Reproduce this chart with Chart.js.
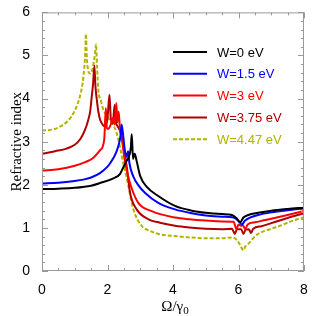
<!DOCTYPE html>
<html>
<head>
<meta charset="utf-8">
<script src="https://cdn.jsdelivr.net/npm/chart.js@4"></script>
<style>
  body { margin: 0; background: #fff; }
</style>
</head>
<body>
<canvas id="nChart" width="316" height="316"></canvas>
<script>
// refractive index vs Omega/gamma0
const labelsW = ['W=0 eV', 'W=1.5 eV', 'W=3 eV', 'W=3.75 eV', 'W=4.47 eV'];
const colorsW = ['#000000', '#0000ff', '#ff0000', '#b00000', '#b3b300'];

const omegaW0 = [0, 0.5, 1.0, 1.5, 1.77, 2.18, 2.38, 2.48, 2.58, 2.65, 2.71, 2.74, 2.78, 2.83, 2.89, 3.0, 3.2, 3.55, 4.06, 4.57, 5.0, 5.5, 5.8, 5.95, 6.05, 6.15, 6.3, 6.6, 7.0, 7.5, 8.0];
const nW0 = [1.90, 1.91, 1.93, 1.98, 2.04, 2.15, 2.25, 2.40, 2.55, 2.65, 2.85, 3.17, 2.60, 2.72, 2.55, 2.20, 1.95, 1.74, 1.51, 1.40, 1.35, 1.32, 1.30, 1.22, 1.13, 1.24, 1.30, 1.35, 1.40, 1.44, 1.47];

const omegaW15 = [0, 0.5, 1.0, 1.26, 1.5, 1.77, 2.0, 2.08, 2.18, 2.28, 2.36, 2.4, 2.43, 2.47, 2.53, 2.58, 2.63, 2.67, 2.79, 2.95, 3.15, 3.55, 4.06, 4.57, 5.0, 5.5, 5.85, 6.0, 6.1, 6.2, 6.35, 6.6, 7.0, 7.5, 8.0];
const nW15 = [2.03, 2.05, 2.09, 2.12, 2.17, 2.27, 2.42, 2.50, 2.62, 2.78, 2.98, 3.15, 3.40, 3.20, 2.80, 2.65, 2.78, 2.50, 2.19, 1.98, 1.81, 1.58, 1.43, 1.34, 1.29, 1.26, 1.24, 1.16, 1.08, 1.17, 1.24, 1.30, 1.36, 1.41, 1.45];

const omegaW3 = [0, 0.5, 1.0, 1.3, 1.57, 1.77, 1.9, 1.95, 1.98, 2.03, 2.1, 2.17, 2.22, 2.27, 2.3, 2.34, 2.38, 2.45, 2.52, 2.6, 2.72, 2.94, 3.35, 4.06, 4.5, 5.0, 5.5, 5.85, 5.94, 6.0, 6.07, 6.14, 6.2, 6.28, 6.5, 7.0, 7.5, 8.0];
const nW3 = [2.33, 2.36, 2.44, 2.52, 2.63, 2.80, 3.05, 3.78, 3.30, 3.30, 3.40, 3.55, 3.40, 3.90, 3.45, 3.70, 3.30, 3.00, 2.60, 2.30, 1.96, 1.58, 1.39, 1.24, 1.20, 1.17, 1.15, 1.14, 0.97, 1.08, 1.05, 1.06, 0.97, 1.08, 1.13, 1.21, 1.30, 1.39];

const omegaW375 = [0, 0.4, 0.75, 1.0, 1.16, 1.3, 1.41, 1.47, 1.52, 1.56, 1.6, 1.63, 1.67, 1.72, 1.77, 1.85, 1.92, 2.0, 2.06, 2.1, 2.16, 2.22, 2.26, 2.3, 2.4, 2.5, 2.6, 2.69, 2.89, 3.25, 3.6, 4.06, 4.5, 5.0, 5.5, 5.8, 5.89, 5.95, 6.08, 6.15, 6.22, 6.32, 6.38, 6.45, 6.7, 7.0, 7.5, 8.0];
const nW375 = [2.72, 2.78, 2.84, 2.93, 3.05, 3.25, 3.50, 3.70, 4.05, 4.35, 4.77, 4.30, 4.00, 3.70, 3.52, 3.40, 3.35, 3.55, 4.09, 3.55, 3.42, 3.86, 3.45, 3.37, 3.22, 2.85, 2.35, 1.81, 1.43, 1.20, 1.12, 1.05, 1.01, 0.98, 0.97, 0.98, 0.86, 0.97, 0.97, 0.86, 0.96, 0.97, 0.88, 0.98, 1.04, 1.11, 1.23, 1.34];

const omegaW447 = [0, 0.3, 0.5, 0.8, 1.0, 1.16, 1.24, 1.29, 1.32, 1.34, 1.37, 1.41, 1.47, 1.53, 1.58, 1.62, 1.65, 1.68, 1.72, 1.8, 1.87, 2.0, 2.08, 2.2, 2.28, 2.38, 2.48, 2.56, 2.64, 2.79, 3.04, 3.3, 3.55, 4.06, 4.5, 5.0, 5.5, 5.8, 5.95, 6.05, 6.15, 6.2, 6.3, 6.45, 6.6, 7.0, 7.27, 7.6, 8.0];
const nW447 = [3.26, 3.28, 3.33, 3.49, 3.72, 4.06, 4.36, 4.70, 5.05, 5.50, 4.95, 4.65, 4.58, 4.65, 4.85, 5.05, 5.26, 4.75, 4.20, 3.95, 3.75, 3.57, 3.48, 3.35, 3.20, 2.88, 2.50, 2.25, 1.96, 1.43, 1.05, 0.93, 0.86, 0.81, 0.78, 0.76, 0.76, 0.78, 0.72, 0.60, 0.48, 0.56, 0.63, 0.76, 0.86, 0.98, 1.05, 1.15, 1.25];

const xTicks = [0, 2, 4, 6, 8];
const yTicks = [0, 1, 2, 3, 4, 5, 6];

function toPoints(xs, ys) {
  return xs.map((x, i) => ({ x: x, y: ys[i] }));
}

const series = [
  toPoints(omegaW0, nW0),
  toPoints(omegaW15, nW15),
  toPoints(omegaW3, nW3),
  toPoints(omegaW375, nW375),
  toPoints(omegaW447, nW447)
];

// frame, inward ticks on all four sides, legend and x title
const framePlugin = {
  id: 'framePlugin',
  afterDraw(chart) {
    const ctx = chart.ctx;
    const a = chart.chartArea;
    const xs = chart.scales.x;
    const ys = chart.scales.y;
    ctx.save();
    ctx.strokeStyle = '#999999';
    ctx.lineWidth = 1;
    ctx.strokeRect(a.left + 0.5, a.top + 0.5, a.right - a.left - 1, a.bottom - a.top - 1);

    ctx.beginPath();
    for (let i = 0; i <= 16; i++) {
      const v = i * 0.5;
      const px = Math.round(xs.getPixelForValue(v)) + 0.5;
      const len = (i % 4 === 0) ? 6 : 3;
      ctx.moveTo(px, a.bottom); ctx.lineTo(px, a.bottom - len);
      ctx.moveTo(px, a.top); ctx.lineTo(px, a.top + len);
    }
    for (let i = 0; i <= 30; i++) {
      const v = i * 0.2;
      const py = Math.round(ys.getPixelForValue(v)) + 0.5;
      const len = (i % 5 === 0) ? 6 : 3;
      ctx.moveTo(a.left, py); ctx.lineTo(a.left + len, py);
      ctx.moveTo(a.right, py); ctx.lineTo(a.right - len, py);
    }
    ctx.stroke();

    // legend
    ctx.font = '13px "Liberation Sans", Arial, sans-serif';
    ctx.textBaseline = 'middle';
    chart.data.datasets.forEach((ds, i) => {
      const y = 52 + i * 21.8;
      ctx.strokeStyle = ds.borderColor;
      ctx.lineWidth = 2;
      ctx.setLineDash(ds.borderDash || []);
      ctx.beginPath();
      ctx.moveTo(173, y); ctx.lineTo(207, y);
      ctx.stroke();
      ctx.setLineDash([]);
      ctx.fillStyle = ds.borderColor;
      ctx.fillText(ds.label, 217, y + 1);
    });

    // x axis title  Omega/gamma_0
    ctx.fillStyle = '#000000';
    ctx.textBaseline = 'alphabetic';
    ctx.font = '15px "Liberation Serif", "Times New Roman", serif';
    const main = 'Ω/γ';
    const wMain = ctx.measureText(main).width;
    ctx.font = '11px "Liberation Serif", "Times New Roman", serif';
    const wSub = ctx.measureText('0').width;
    const x0 = (a.left + a.right) / 2 + 2 - (wMain + wSub) / 2;
    ctx.font = '15px "Liberation Serif", "Times New Roman", serif';
    ctx.fillText(main, x0, 311);
    ctx.font = '11px "Liberation Serif", "Times New Roman", serif';
    ctx.fillText('0', x0 + wMain, 314);
    ctx.restore();
  }
};

const nChart = new Chart(document.getElementById('nChart'), {
  type: 'scatter',
  data: {
    datasets: series.map((pts, i) => ({
      label: labelsW[i],
      data: pts,
      showLine: true,
      borderColor: colorsW[i],
      backgroundColor: colorsW[i],
      borderWidth: 2,
      borderDash: i === 4 ? [4, 2] : [],
      pointRadius: 0,
      cubicInterpolationMode: 'monotone'
    }))
  },
  options: {
    responsive: false,
    animation: false,
    layout: { padding: { top: 8, right: 12, left: 0, bottom: 0 } },
    scales: {
      x: {
        type: 'linear',
        min: 0,
        max: 8,
        afterFit: (s) => { s.height = 45; },
        afterBuildTicks: (s) => { s.ticks = xTicks.map(v => ({ value: v })); },
        grid: { display: false },
        border: { display: false },
        ticks: {
          color: '#000',
          padding: 3,
          font: { family: '"Liberation Sans", Arial, sans-serif', size: 14 }
        }
      },
      y: {
        type: 'linear',
        min: 0,
        max: 6,
        afterFit: (s) => { s.width = 42; },
        afterBuildTicks: (s) => { s.ticks = yTicks.map(v => ({ value: v })); },
        grid: { display: false },
        border: { display: false },
        ticks: {
          color: '#000',
          padding: 4,
          font: { family: '"Liberation Sans", Arial, sans-serif', size: 14 }
        },
        title: {
          display: true,
          text: 'Refractive index',
          color: '#000',
          padding: { top: 8, bottom: 0 },
          font: { family: '"Liberation Serif", "Times New Roman", serif', size: 15 }
        }
      }
    },
    plugins: {
      legend: { display: false },
      tooltip: { enabled: false }
    }
  },
  plugins: [framePlugin]
});
</script>
</body>
</html>
